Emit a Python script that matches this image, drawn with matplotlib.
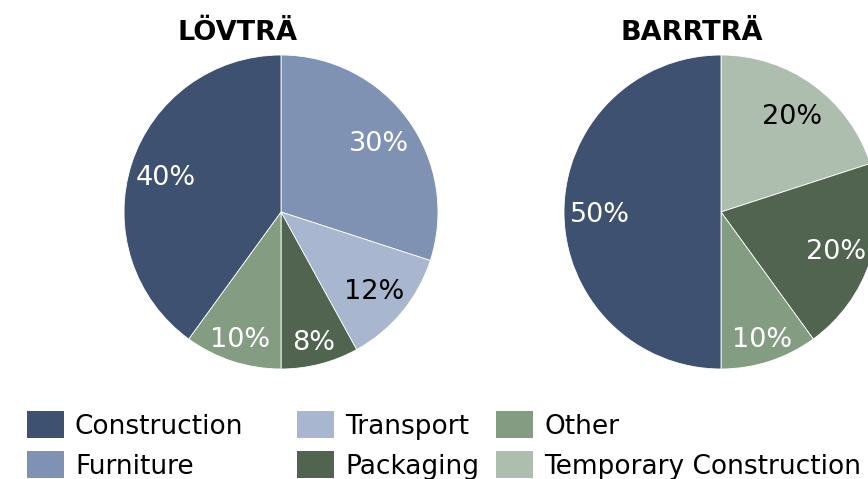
import matplotlib.pyplot as plt
from matplotlib.patches import Rectangle
import numpy as np

# Wood use shares, clockwise from 12 o'clock
titles = ['LÖVTRÄ', 'BARRTRÄ']
hard_cats = ['Furniture', 'Transport', 'Packaging', 'Other', 'Construction']
hard_vals = [30, 12, 8, 10, 40]
soft_cats = ['Temporary Construction', 'Packaging', 'Other', 'Construction']
soft_vals = [20, 20, 10, 50]

legend_order = ['Construction', 'Furniture', 'Transport', 'Packaging',
                'Other', 'Temporary Construction']

colors = {
    'Construction': '#3F5170',
    'Furniture': '#7F92B4',
    'Transport': '#A9B6D0',
    'Packaging': '#506450',
    'Other': '#849D82',
    'Temporary Construction': '#ADBEAE',
}
text_colors = {
    'Construction': 'white', 'Furniture': 'white', 'Transport': 'black',
    'Packaging': 'white', 'Other': 'white', 'Temporary Construction': 'black',
}

W, H = 868, 479
fig = plt.figure(figsize=(W / 100, H / 100), dpi=100)
plt.rcParams['font.family'] = 'DejaVu Sans'

R = 157
pies = [
    (hard_cats, hard_vals, 281, 212, 237),
    (soft_cats, soft_vals, 721, 212, 692),
]

for (cats, vals, cx, cy, tx), title in zip(pies, titles):
    ax = fig.add_axes([(cx - R) / W, (H - cy - R) / H, 2 * R / W, 2 * R / H])
    wedges, _ = ax.pie(vals, colors=[colors[c] for c in cats], startangle=90,
                       counterclock=False, radius=1,
                       wedgeprops=dict(edgecolor='white', linewidth=0.6))
    ax.set_xlim(-1, 1)
    ax.set_ylim(-1, 1)
    ax.set_aspect('equal')
    ax.axis('off')
    total = sum(vals)
    for w, c, v in zip(wedges, cats, vals):
        mid = np.deg2rad((w.theta1 + w.theta2) / 2)
        # small slices get their label pushed a bit further out
        d = 0.84 if v / total <= 0.1 else 0.77
        ax.text(d * np.cos(mid), d * np.sin(mid), f'{v}%', ha='center',
                va='center_baseline', fontsize=19.5, color=text_colors[c])
    fig.text(tx / W, 1 - 33 / H, title, ha='center', va='center',
             fontsize=19.5, fontweight='bold')

# Legend: three columns, two rows
col_x = [27, 297, 496]
row_y = [425, 465]
for i, name in enumerate(legend_order):
    x = col_x[i // 2]
    y = row_y[i % 2]
    fig.patches.append(Rectangle((x / W, 1 - (y + 13) / H), 37 / W, 27 / H,
                                 transform=fig.transFigure,
                                 facecolor=colors[name], edgecolor='none'))
    fig.text((x + 48) / W, 1 - (y + 2) / H, name, ha='left', va='center',
             fontsize=19)

fig.savefig('out.png', dpi=100)
